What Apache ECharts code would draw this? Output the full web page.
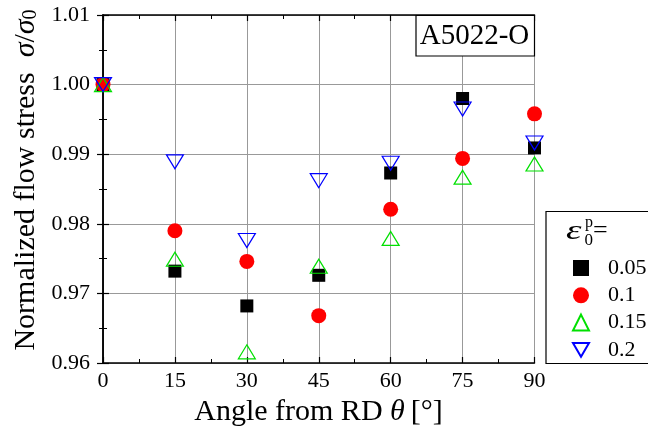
<!DOCTYPE html>
<html><head><meta charset="utf-8">
<script src="https://cdn.jsdelivr.net/npm/echarts@6/dist/echarts.min.js"></script>
<style>html,body{margin:0;padding:0;background:#fff}#c{width:648px;height:438px}</style>
</head><body><div id="c"></div>
<script>
const angles = [0, 15, 30, 45, 60, 75, 90];
const seriesNames = ['0.05', '0.1', '0.15', '0.2'];
const s005 = [1.000, 0.9732, 0.9682, 0.9726, 0.9873, 0.9980, 0.9909];
const s010 = [1.000, 0.9790, 0.9746, 0.9668, 0.9821, 0.9894, 0.9958];
const s015 = [1.000, 0.9749, 0.9616, 0.9739, 0.9779, 0.9867, 0.9886];
const s020 = [1.000, 0.9889, 0.9776, 0.9862, 0.9887, 0.9965, 0.9916];
const xTicks = [0, 15, 30, 45, 60, 75, 90];
const yTicks = [0.96, 0.97, 0.98, 0.99, 1.00, 1.01];

const F = "'Liberation Serif', 'Times New Roman', serif";
const pair = arr => angles.map((a, i) => [a, arr[i]]);
const chart = echarts.init(document.getElementById('c'), null, {renderer: 'canvas'});
const axisLine = {show: true, lineStyle: {color: '#000', width: 1.5}};
const tick = {show: true, inside: true, length: 6, lineStyle: {color: '#000', width: 1.2}};
const minor = {show: true, splitNumber: 2, length: 4, lineStyle: {color: '#000', width: 1}};
const downTri = 'path://M0,0 L20,0 L10,17 Z';
chart.setOption({
  animation: false,
  backgroundColor: '#fff',
  textStyle: {fontFamily: F},
  grid: {left: 103, right: 113.5, top: 15, bottom: 75},
  xAxis: [{
    type: 'value', min: 0, max: 90, interval: 15, position: 'bottom',
    axisLine, axisTick: tick, minorTick: minor,
    splitLine: {show: true, lineStyle: {color: '#999', width: 1}},
    axisLabel: {fontFamily: F, fontSize: 22, color: '#000', margin: 7,
      formatter: v => xTicks.includes(v) ? String(v) : ''}
  }, {
    type: 'value', min: 0, max: 90, interval: 15, position: 'top',
    axisLine, axisTick: tick, minorTick: minor, splitLine: {show: false}, axisLabel: {show: false}
  }],
  yAxis: [{
    type: 'value', min: 0.96, max: 1.01, interval: 0.01, position: 'left',
    axisLine, axisTick: tick, minorTick: minor,
    splitLine: {show: true, lineStyle: {color: '#999', width: 1}},
    axisLabel: {fontFamily: F, fontSize: 22, color: '#000', margin: 13,
      formatter: v => yTicks.some(t => Math.abs(t - v) < 1e-9) ? v.toFixed(2) : ''}
  }, {
    type: 'value', min: 0.96, max: 1.01, interval: 0.01, position: 'right',
    axisLine, axisTick: tick, minorTick: minor, splitLine: {show: false}, axisLabel: {show: false}
  }],
  legend: {
    left: 567, top: 252, orient: 'vertical', itemGap: 5.3, itemWidth: 16, itemHeight: 16,
    data: [
      {name: seriesNames[0], icon: 'rect'},
      {name: seriesNames[1], icon: 'circle'},
      {name: seriesNames[2], icon: 'triangle'},
      {name: seriesNames[3], icon: downTri}
    ],
    textStyle: {fontFamily: F, fontSize: 22, color: '#000', padding: [0, 0, 0, 14]}
  },
  graphic: [
    {type: 'text', x: 318.5, y: 412, z: 10, style: {
      text: '{a|Angle from RD }{i|θ}{a|\u2009[°]}', align: 'center', verticalAlign: 'middle',
      rich: {a: {fontFamily: F, fontSize: 30, fill: '#000'}, i: {fontFamily: F, fontSize: 30, fontStyle: 'italic', fill: '#000'}}}},
    {type: 'text', x: 26, y: 180, rotation: Math.PI / 2, z: 10, style: {
      text: '{a|Normalized flow stress  }{i|σ}{a|/}{i|σ}{s|0}', align: 'center', verticalAlign: 'middle',
      rich: {a: {fontFamily: F, fontSize: 30, fill: '#000', height: 34},
        i: {fontFamily: F, fontSize: 30, fontStyle: 'italic', fill: '#000', height: 34},
        s: {fontFamily: F, fontSize: 20, fill: '#000', verticalAlign: 'bottom', height: 34, padding: [0, 0, -5, 0]}}}},
    {type: 'rect', shape: {x: 546, y: 211.5, width: 120, height: 152}, style: {fill: '#fff', stroke: '#000', lineWidth: 1.2}, z: 0},
    {type: 'text', x: 566, y: 232, scaleX: 1.4, z: 10, style: {text: 'ε', fontFamily: F, fontSize: 28, fontStyle: 'italic', fill: '#000', verticalAlign: 'middle'}},
    {type: 'text', x: 584.5, y: 241, z: 10, style: {text: '0', fontFamily: F, fontSize: 17, fill: '#000', verticalAlign: 'middle'}},
    {type: 'text', x: 585, y: 223, z: 10, style: {text: 'p', fontFamily: F, fontSize: 16, fill: '#000', verticalAlign: 'middle'}},
    {type: 'text', x: 593, y: 231, z: 10, style: {text: '=', fontFamily: F, fontSize: 26, fill: '#000', verticalAlign: 'middle'}},
    {type: 'rect', shape: {x: 416, y: 15.5, width: 118.5, height: 40.5}, style: {fill: '#fff', stroke: '#000', lineWidth: 1.2}, z: 5},
    {type: 'text', x: 474.5, y: 36, z: 10, style: {text: 'A5022-O', fontFamily: F, fontSize: 29, fill: '#000', align: 'center', verticalAlign: 'middle'}}
  ],
  series: [
    {name: '0.05', type: 'scatter', data: pair(s005), symbol: 'rect', symbolSize: 13,
      itemStyle: {color: '#000', opacity: 1}, z: 3},
    {name: '0.1', type: 'scatter', data: pair(s010), symbol: 'circle', symbolSize: 15,
      itemStyle: {color: '#ff0000', opacity: 1}, z: 3},
    {name: '0.15', type: 'scatter', data: pair(s015), symbol: 'triangle', symbolSize: [17, 14],
      itemStyle: {color: 'rgba(0,0,0,0)', borderColor: '#00e000', borderWidth: 1.2, opacity: 1}, z: 3},
    {name: '0.2', type: 'scatter', data: pair(s020), symbol: 'triangle', symbolSize: [17, 14], symbolRotate: 180,
      itemStyle: {color: 'rgba(0,0,0,0)', borderColor: '#0000ff', borderWidth: 1.2, opacity: 1}, z: 3}
  ]
});
</script></body></html>
